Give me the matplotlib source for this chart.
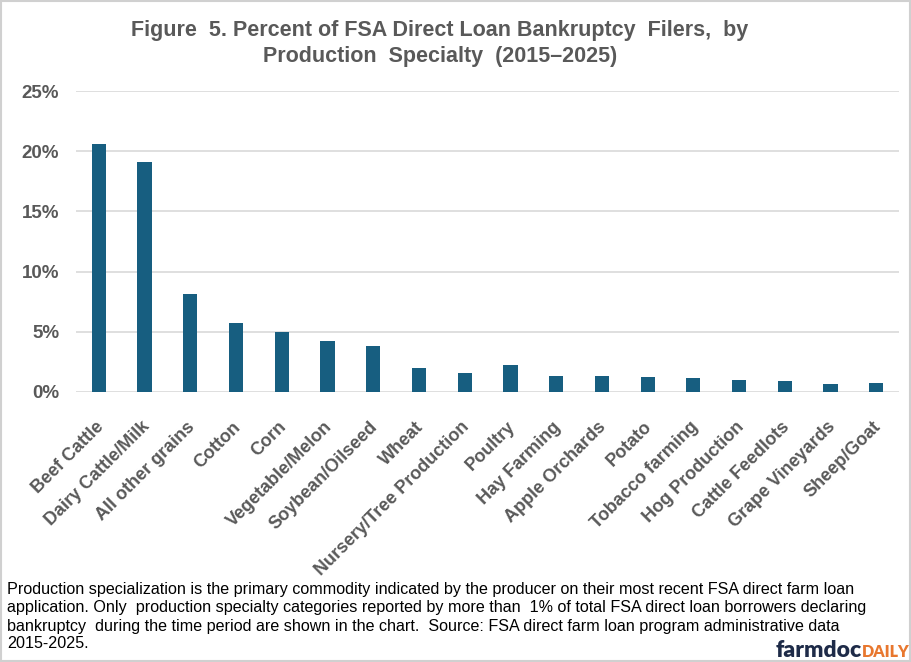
import matplotlib.pyplot as plt
from matplotlib import transforms

specialties = ['Beef Cattle', 'Dairy Cattle/Milk', 'All other grains', 'Cotton', 'Corn',
               'Vegetable/Melon', 'Soybean/Oilseed', 'Wheat', 'Nursery/Tree Production',
               'Poultry', 'Hay Farming', 'Apple Orchards', 'Potato', 'Tobacco farming',
               'Hog Production', 'Cattle Feedlots', 'Grape Vineyards', 'Sheep/Goat']
pct_filers = [20.6, 19.1, 8.1, 5.7, 4.95, 4.2, 3.85, 1.95, 1.6,
              2.25, 1.35, 1.35, 1.25, 1.2, 1.0, 0.95, 0.7, 0.75]
y_ticks = [0, 5, 10, 15, 20, 25]

footnote_lines = [
    'Production specialization is the primary commodity indicated by the producer on their most recent FSA direct farm loan',
    'application. Only  production specialty categories reported by more than  1% of total FSA direct loan borrowers declaring',
    'bankruptcy  during the time period are shown in the chart.  Source: FSA direct farm loan program administrative data',
    '2015-2025.',
]

gray = '#595959'
bar_color = '#175E80'

fig = plt.figure(figsize=(9.11, 6.62), dpi=100)
ax = fig.add_axes([0.0834, 0.4079, 0.9036, 0.4546])

ax.bar(range(len(specialties)), pct_filers, width=0.31, color=bar_color, zorder=3)
ax.set_xlim(-0.5, len(specialties) - 0.5)
ax.set_ylim(0, 25)
ax.set_yticks(y_ticks)
ax.set_yticklabels([f'{v}%' for v in y_ticks], fontsize=13.5, fontweight='bold',
                   color=gray, family='Liberation Sans')
ax.set_xticks(range(len(specialties)))
ax.set_xticklabels(specialties, rotation=45, ha='right', rotation_mode='anchor',
                   fontsize=13, fontweight='bold', color=gray, family='Liberation Sans')
ax.tick_params(axis='y', length=0, pad=12)
ax.tick_params(axis='x', length=0, pad=19)
# nudge the slanted labels a little to the left
shift = transforms.ScaledTranslation(-4 / 100, 0, fig.dpi_scale_trans)
for lbl in ax.get_xticklabels():
    lbl.set_transform(lbl.get_transform() + shift)
ax.grid(axis='y', color='#D9D9D9', linewidth=1.2, zorder=0)
for s in ax.spines.values():
    s.set_visible(False)

fig.text(0.483, 0.97, 'Figure  5. Percent of FSA Direct Loan Bankruptcy  Filers,  by\nProduction  Specialty  (2015\u20132025)',
         ha='center', va='top', fontsize=15.5, fontweight='bold', color=gray,
         family='Liberation Sans', linespacing=1.35)

# footnote, one text per line
line_y = [0.1088, 0.0816, 0.0529, 0.0272]
for txt, y in zip(footnote_lines, line_y):
    fig.text(0.008, y, txt, ha='left', va='center', fontsize=11.6, color='black',
             family='Liberation Sans')

fig.text(0.946, 0.0076, 'farmdoc', ha='right', va='baseline', fontsize=16.5, fontweight='heavy',
         color='#1E2B48', family='Lato')
fig.text(0.946, 0.0076, 'DAILY', ha='left', va='baseline', fontsize=11.5, fontweight='heavy',
         color='#E8772E', family='Lato')

fig.patches.append(plt.Rectangle((0.001, 0.001), 0.998, 0.998, transform=fig.transFigure,
                                 fill=False, edgecolor='#D0D0D0', linewidth=1.5))

fig.savefig('out.png', dpi=100)
